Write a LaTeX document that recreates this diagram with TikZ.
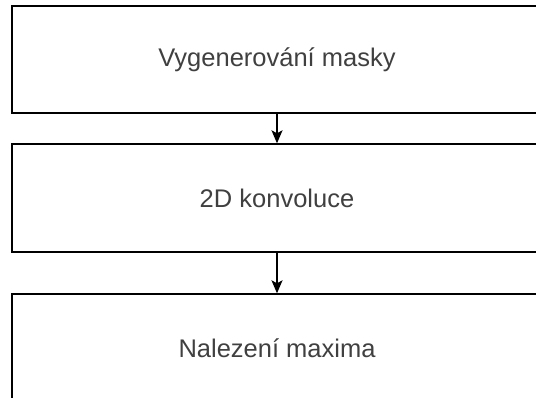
\documentclass[tikz,border=0pt]{standalone}
\usepackage{fontspec}
\setmainfont{Liberation Sans}
\usetikzlibrary{arrows.meta}
\begin{document}
\begin{tikzpicture}[x=1pt,y=-1pt,
    stepbox/.style={draw, line width=1.4pt, minimum width=530pt, minimum height=108pt, inner sep=0pt, font=\fontsize{25.5}{30}\selectfont, text=black!75},
    flow/.style={-{Stealth[length=13pt,width=11pt,inset=3pt]}, line width=1.4pt}]
    \useasboundingbox (0,0) rectangle (536,398);
    \clip (0,0) rectangle (536,398);

    \node [stepbox, minimum height=107pt] (maska) at (277,59.5) {Vygenerování masky};
    \node [stepbox] (konv) at (277,198) {2D konvoluce};
    \node [stepbox] (maxim) at (277,348) {Nalezení maxima};

    \draw [flow] (maska) -- (konv);
    \draw [flow] (konv) -- (maxim);
\end{tikzpicture}
\end{document}
